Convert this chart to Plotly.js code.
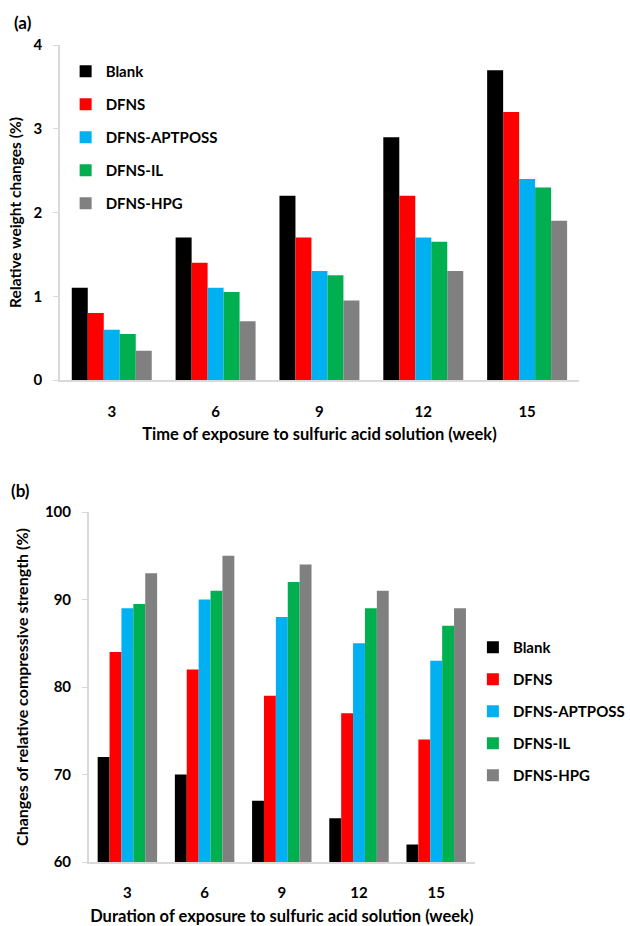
<!DOCTYPE html>
<html>
<head>
<meta charset="utf-8">
<script src="https://cdn.plot.ly/plotly-3.0.1.min.js"></script>
<style>html,body{margin:0;padding:0;background:#fff;}#chart{width:630px;height:926px;}</style>
</head>
<body>
<div id="chart"></div>
<script>
const weeks = ['3', '6', '9', '12', '15'];
const seriesNames = ['Blank', 'DFNS', 'DFNS-APTPOSS', 'DFNS-IL', 'DFNS-HPG'];
const seriesColors = ['#000000', '#FF0000', '#00B0F0', '#00B050', '#808080'];

// Panel (a): relative weight changes (%)
const weightBlank = [1.1, 1.7, 2.2, 2.9, 3.7];
const weightDFNS = [0.8, 1.4, 1.7, 2.2, 3.2];
const weightAPTPOSS = [0.6, 1.1, 1.3, 1.7, 2.4];
const weightIL = [0.55, 1.05, 1.25, 1.65, 2.3];
const weightHPG = [0.35, 0.7, 0.95, 1.3, 1.9];

// Panel (b): changes of relative compressive strength (%)
const strengthBlank = [72, 70, 67, 65, 62];
const strengthDFNS = [84, 82, 79, 77, 74];
const strengthAPTPOSS = [89, 90, 88, 85, 83];
const strengthIL = [89.5, 91, 92, 89, 87];
const strengthHPG = [93, 95, 94, 91, 89];

const weightSeries = [weightBlank, weightDFNS, weightAPTPOSS, weightIL, weightHPG];
const strengthSeries = [strengthBlank, strengthDFNS, strengthAPTPOSS, strengthIL, strengthHPG];

const FONT = 'Lato, "Open Sans", sans-serif';
const traces = [];
weightSeries.forEach((vals, i) => {
  traces.push({
    type: 'bar', x: weeks, y: vals, name: seriesNames[i],
    marker: {color: seriesColors[i], line: {width: 0}},
    xaxis: 'x', yaxis: 'y', legend: 'legend', legendgroup: 'a' + i,
    hoverinfo: 'x+y+name'
  });
});
strengthSeries.forEach((vals, i) => {
  traces.push({
    type: 'bar', x: weeks, y: vals, name: seriesNames[i],
    marker: {color: seriesColors[i], line: {width: 0}},
    xaxis: 'x2', yaxis: 'y2', legend: 'legend2', legendgroup: 'b' + i,
    hoverinfo: 'x+y+name'
  });
});

const W = 630, H = 926;
const px = v => v / W;
const py = v => 1 - v / H;

const tickFont = {family: FONT, size: 15, color: '#000', weight: 'bold'};
const xTitleFont = {family: FONT, size: 16.5, color: '#000', weight: 'bold'};
const yTitleFontA = {family: FONT, size: 15.5, color: '#000', weight: 'bold'};
const yTitleFontB = {family: FONT, size: 16, color: '#000', weight: 'bold'};
const legendFont = {family: FONT, size: 15, color: '#000', weight: 'bold'};

const layout = {
  width: W, height: H,
  margin: {l: 0, r: 0, t: 0, b: 0},
  paper_bgcolor: '#fff', plot_bgcolor: '#fff',
  barmode: 'group', bargap: 0.23, bargroupgap: 0,
  font: {family: FONT, color: '#000'},
  xaxis: {
    domain: [px(62), px(600)], anchor: 'y', type: 'category',
    showline: true, linecolor: '#D9D9D9', linewidth: 1.5,
    ticks: '', showgrid: false, zeroline: false,
    tickfont: tickFont, ticklabelstandoff: 17,
    title: {text: 'Time of exposure to sulfuric acid solution (week)', font: xTitleFont, standoff: 10}
  },
  yaxis: {
    domain: [py(380), py(45)], anchor: 'x', range: [0, 4], dtick: 1,
    showline: true, linecolor: '#D9D9D9', linewidth: 1.5,
    ticks: 'outside', ticklen: 5, tickcolor: '#D9D9D9', tickwidth: 1,
    showgrid: false, zeroline: false,
    tickfont: tickFont, ticklabelstandoff: 8,
    title: {text: 'Relative weight changes (%)', font: yTitleFontA, standoff: 8}
  },
  xaxis2: {
    domain: [px(92), px(492)], anchor: 'y2', type: 'category',
    showline: true, linecolor: '#D9D9D9', linewidth: 1.5,
    ticks: '', showgrid: false, zeroline: false,
    tickfont: tickFont, ticklabelstandoff: 16,
    title: {text: 'Duration of exposure to sulfuric acid solution (week)', font: xTitleFont, standoff: 11}
  },
  yaxis2: {
    domain: [py(862), py(512)], anchor: 'x2', range: [60, 100], dtick: 10,
    showline: true, linecolor: '#D9D9D9', linewidth: 1.5,
    ticks: 'outside', ticklen: 5, tickcolor: '#D9D9D9', tickwidth: 1,
    showgrid: false, zeroline: false,
    tickfont: tickFont, ticklabelstandoff: 8,
    title: {text: 'Changes of relative compressive strength (%)', font: yTitleFontB, standoff: 12}
  },
  legend: {
    x: px(68), y: py(55), xanchor: 'left', yanchor: 'top',
    traceorder: 'grouped', tracegroupgap: 10.5, itemwidth: 30,
    font: legendFont, bgcolor: 'rgba(0,0,0,0)'
  },
  legend2: {
    x: px(490), y: py(631), xanchor: 'left', yanchor: 'top',
    traceorder: 'grouped', tracegroupgap: 9.5, itemwidth: 30,
    font: legendFont, bgcolor: 'rgba(0,0,0,0)'
  },
  annotations: [
    {text: '(a)', xref: 'paper', yref: 'paper', x: px(12), y: py(22), xanchor: 'left', yanchor: 'middle',
     showarrow: false, font: {family: FONT, size: 17, color: '#000', weight: 'bold'}},
    {text: '(b)', xref: 'paper', yref: 'paper', x: px(9), y: py(490), xanchor: 'left', yanchor: 'middle',
     showarrow: false, font: {family: FONT, size: 17, color: '#000', weight: 'bold'}}
  ]
};

Plotly.newPlot('chart', traces, layout, {displayModeBar: false, responsive: false});
</script>
</body>
</html>
